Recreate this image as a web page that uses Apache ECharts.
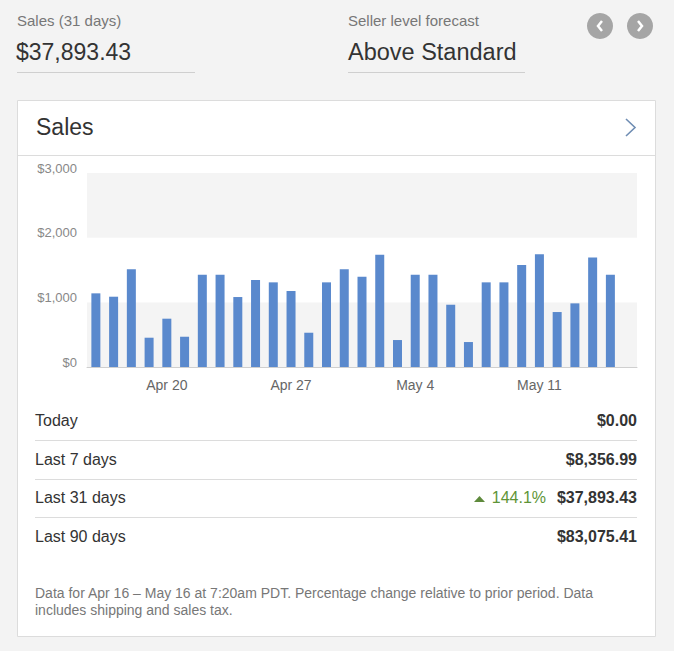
<!DOCTYPE html>
<html>
<head>
<meta charset="utf-8">
<script src="https://cdn.jsdelivr.net/npm/echarts@6/dist/echarts.min.js"></script>
<style>
html,body{margin:0;padding:0;background:#f3f3f3;}
#chart{width:674px;height:651px;}
</style>
</head>
<body>
<div id="chart"></div>
<script>
// ---- data ----
const dates = ['Apr 16','Apr 17','Apr 18','Apr 19','Apr 20','Apr 21','Apr 22','Apr 23','Apr 24','Apr 25','Apr 26',
  'Apr 27','Apr 28','Apr 29','Apr 30','May 1','May 2','May 3','May 4','May 5','May 6','May 7','May 8','May 9',
  'May 10','May 11','May 12','May 13','May 14','May 15','May 16'];
const sales = [1139,1087,1510,453,747,468,1427,1427,1082,1345,1309,1175,530,1309,1510,1396,1736,417,1427,1427,
  963,386,1309,1309,1577,1742,850,984,1695,1427,0];
const tickLabels = ['Apr 20','Apr 27','May 4','May 11'];
const yTicks = [0,1000,2000,3000];
const periodLabels = ['Today','Last 7 days','Last 31 days','Last 90 days'];
const periodValues = ['$0.00','$8,356.99','$37,893.43','$83,075.41'];
const periodChange = ['','','144.1%',''];
const headerTitle = 'Sales (31 days)';
const headerValue = '$37,893.43';
const forecastTitle = 'Seller level forecast';
const forecastValue = 'Above Standard';
const cardTitle = 'Sales';
const footnote1 = 'Data for Apr 16 \u2013 May 16 at 7:20am PDT. Percentage change relative to prior period. Data';
const footnote2 = 'includes shipping and sales tax.';

const FONT = '"Liberation Sans", Arial, sans-serif';
const chart = echarts.init(document.getElementById('chart'), null, {renderer: 'svg'});

const graphics = [];
// header texts
graphics.push({type:'text', left:17, top:13, style:{text:headerTitle, font:'15px '+FONT, fill:'#777'}});
graphics.push({type:'text', left:16, top:40, style:{text:headerValue, font:'23px '+FONT, fill:'#333'}});
graphics.push({type:'line', shape:{x1:17,y1:72.5,x2:195,y2:72.5}, style:{stroke:'#cfcfcf', lineWidth:1}});
graphics.push({type:'text', left:348, top:13, style:{text:forecastTitle, font:'15px '+FONT, fill:'#777'}});
graphics.push({type:'text', left:348, top:40, style:{text:forecastValue, font:'23.5px '+FONT, fill:'#333'}});
graphics.push({type:'line', shape:{x1:348,y1:72.5,x2:525,y2:72.5}, style:{stroke:'#cfcfcf', lineWidth:1}});
// nav buttons
[600,640].forEach((cx,i)=>{
  graphics.push({type:'circle', shape:{cx:cx, cy:26, r:13}, style:{fill:'#a5a5a5'}});
  const d = i===0 ? -1 : 1;
  graphics.push({type:'polyline', shape:{points:[[cx-2*d,21],[cx+2*d,26],[cx-2*d,31]]},
    style:{stroke:'#fff', lineWidth:2.5, fill:null}});
});
// card
graphics.push({type:'rect', shape:{x:17.5,y:100.5,width:638,height:536}, style:{fill:'#fff', stroke:'#dcdcdc', lineWidth:1}, z:-10});
graphics.push({type:'text', left:36, top:115, style:{text:cardTitle, font:'23px '+FONT, fill:'#333'}});
graphics.push({type:'polyline', shape:{points:[[626,119],[635,127.5],[626,136]]}, style:{stroke:'#6f8db3', lineWidth:1.6, fill:null}});
graphics.push({type:'line', shape:{x1:17,y1:155.5,x2:656,y2:155.5}, style:{stroke:'#dcdcdc', lineWidth:1}});
// table
const rowY = [421,460,498,537];
periodLabels.forEach((lab,i)=>{
  graphics.push({type:'text', left:35, top:rowY[i]-9, style:{text:lab, font:'16px '+FONT, fill:'#333'}});
  graphics.push({type:'text', right:674-637, top:rowY[i]-9, style:{text:periodValues[i], font:'bold 16px '+FONT, fill:'#333', align:'right'}});
  if (periodChange[i]) {
    graphics.push({type:'text', right:674-546, top:rowY[i]-9, style:{text:periodChange[i], font:'16px '+FONT, fill:'#5e9437', align:'right'}});
    graphics.push({type:'polygon', shape:{points:[[474,502],[485,502],[479.5,496]]}, style:{fill:'#5e8a3c'}});
  }
  if (i<3) graphics.push({type:'line', shape:{x1:35,y1:rowY[i]+19.5,x2:637,y2:rowY[i]+19.5}, style:{stroke:'#dcdcdc', lineWidth:1}});
});
graphics.push({type:'text', left:35, top:586, style:{text:footnote1, font:'14px '+FONT, fill:'#777'}});
graphics.push({type:'text', left:35, top:603, style:{text:footnote2, font:'14px '+FONT, fill:'#777'}});

chart.setOption({
  backgroundColor:'transparent',
  animation:false,
  textStyle:{fontFamily:FONT},
  grid:{left:87, right:37, top:173, bottom:284},
  xAxis:{
    type:'category', data:dates,
    axisLine:{lineStyle:{color:'#cfcfcf'}},
    axisTick:{show:false},
    axisLabel:{interval:(i,v)=>tickLabels.includes(v), color:'#666', fontSize:14, margin:11}
  },
  yAxis:{
    type:'value', min:yTicks[0], max:yTicks[yTicks.length-1], interval:1000,
    axisLine:{show:false}, axisTick:{show:false},
    splitLine:{show:false},
    splitArea:{show:true, areaStyle:{color:['#f4f4f4','#ffffff']}},
    axisLabel:{color:'#888', fontSize:13, margin:10, verticalAlign:'bottom', lineHeight:10,
      formatter:v=>'$'+v.toLocaleString('en-US')}
  },
  series:[{type:'bar', data:sales, barWidth:9, itemStyle:{color:'#5a89cd'}}],
  graphic:graphics
});
</script>
</body>
</html>
